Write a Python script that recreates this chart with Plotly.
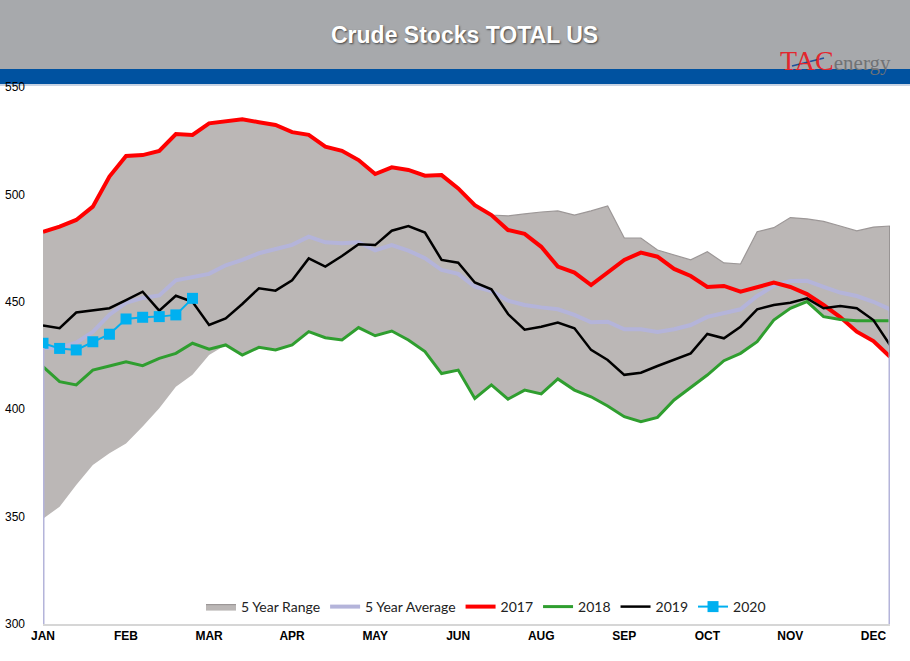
import plotly.graph_objects as go

weeks = list(range(52))
month_ticks = [0, 5, 10, 15, 20, 25, 30, 35, 40, 45, 50]
month_labels = ["JAN", "FEB", "MAR", "APR", "MAY", "JUN", "AUG", "SEP", "OCT", "NOV", "DEC"]

y2017 = [482.6, 485.0, 488.1, 494.3, 508.3, 517.9, 518.3, 520.2, 528.1, 527.7,
         533.1, 533.9, 535.0, 533.6, 532.3, 529.0, 527.7, 522.2, 520.3, 516.0,
         509.5, 512.6, 511.4, 508.7, 509.0, 502.8, 495.0, 490.4, 483.4, 481.6,
         475.6, 466.4, 463.6, 457.8, 463.4, 469.5, 472.9, 471.0, 465.3, 462.0,
         456.9, 457.4, 454.7, 457.0, 458.9, 456.9, 453.6, 448.5, 442.9, 436.1,
         431.7, 424.4]

y2018 = [419.8, 412.8, 411.3, 418.2, 420.1, 422.1, 420.3, 423.7, 426.0, 430.7,
         427.9, 429.9, 425.2, 428.8, 427.6, 429.9, 436.1, 433.3, 432.2, 438.0,
         434.2, 436.4, 432.2, 426.8, 416.6, 418.2, 405.0, 411.3, 404.7, 408.9,
         407.1, 414.1, 408.9, 405.8, 401.5, 396.5, 394.2, 396.2, 404.3, 410.0,
         415.9, 422.6, 426.0, 431.4, 441.5, 447.0, 450.1, 443.1, 441.8, 441.2,
         441.2, 441.2]

y2019 = [439.0, 437.7, 445.0, 445.9, 447.0, 450.8, 454.7, 445.9, 452.8, 450.0,
         439.2, 442.3, 449.0, 456.3, 455.2, 460.0, 470.2, 466.4, 471.3, 476.8,
         476.4, 483.1, 485.3, 482.2, 469.5, 468.2, 459.0, 455.8, 444.3, 437.0,
         438.4, 440.3, 437.7, 427.6, 422.9, 416.0, 417.0, 420.1, 422.9, 426.0,
         435.0, 433.0, 438.4, 446.5, 448.5, 449.6, 451.6, 447.0, 448.0, 447.0,
         441.5, 429.9]

y2020 = [430.7, 428.3, 427.6, 431.4, 434.9, 442.0, 442.8, 443.1, 443.9, 451.6]

avg5 = [428.5, 428.5, 431.0, 436.0, 444.0, 449.5, 451.8, 453.0, 460.0, 461.7,
        463.0, 467.0, 469.5, 472.6, 474.5, 476.5, 480.3, 477.7, 477.2, 477.7,
        474.0, 476.4, 473.8, 470.3, 464.8, 463.0, 457.0, 455.0, 450.5, 448.5,
        447.4, 446.5, 443.9, 440.5, 440.7, 437.2, 437.2, 436.0, 437.2, 439.2,
        443.0, 444.6, 446.5, 452.7, 457.4, 459.7, 459.8, 457.0, 454.3, 452.7,
        450.0, 446.5]

range_low = [349.0, 354.6, 364.7, 374.0, 379.5, 384.0, 392.0, 400.4, 410.5, 416.0,
             425.2, 429.9, 425.2, 428.8, 427.6, 429.9, 436.1, 433.3, 432.2, 438.0,
             434.2, 436.4, 432.2, 426.8, 416.6, 418.2, 405.0, 411.3, 404.7, 408.9,
             407.1, 414.1, 408.9, 405.8, 401.5, 396.5, 394.2, 396.2, 404.3, 410.0,
             415.9, 422.6, 426.0, 431.4, 441.5, 447.0, 450.1, 443.1, 441.8, 436.1,
             431.7, 424.4]

range_high = [482.6, 485.0, 488.1, 494.3, 508.3, 517.9, 518.3, 520.2, 528.1, 527.7,
              533.1, 533.9, 535.0, 533.6, 532.3, 529.0, 527.7, 522.2, 520.3, 516.0,
              509.5, 512.6, 511.4, 508.7, 509.0, 502.8, 495.0, 490.4, 490.0, 490.9,
              491.8, 492.3, 490.4, 492.3, 494.6, 479.7, 479.7, 474.1, 471.8, 469.5,
              473.3, 468.1, 467.6, 482.6, 484.5, 489.2, 488.6, 487.4, 485.3, 483.0,
              484.8, 485.3]

Y_MIN, Y_MAX = 300, 550

fig = go.Figure()

fig.add_trace(go.Scatter(x=weeks, y=range_low, mode="lines", line=dict(width=0, color="rgba(0,0,0,0)"),
                         showlegend=False, hoverinfo="skip"))
fig.add_trace(go.Scatter(x=weeks, y=range_high, mode="lines", fill="tonexty",
                         fillcolor="#bbb7b6", line=dict(width=1.2, color="#9c9797"),
                         name="5 Year Range"))
fig.add_trace(go.Scatter(x=weeks, y=avg5, mode="lines", line=dict(width=4, color="#b4b4da"),
                         name="5 Year Average"))
fig.add_trace(go.Scatter(x=weeks, y=y2017, mode="lines", line=dict(width=4, color="#ff0000"),
                         name="2017"))
fig.add_trace(go.Scatter(x=weeks, y=y2018, mode="lines", line=dict(width=3, color="#2f9e2f"),
                         name="2018"))
fig.add_trace(go.Scatter(x=weeks, y=y2019, mode="lines", line=dict(width=2.5, color="#000000"),
                         name="2019"))
fig.add_trace(go.Scatter(x=weeks[:len(y2020)], y=y2020, mode="lines+markers",
                         line=dict(width=2, color="#00b0f0"),
                         marker=dict(symbol="square", size=11, color="#00b0f0"),
                         name="2020"))

# paper y for a pixel row: (624 - py) / 537 ; paper x: (px - 43) / 847
def py(p):
    return (624 - p) / 537.0

def px(p):
    return (p - 43) / 847.0

shapes = [
    dict(type="rect", xref="paper", yref="paper", x0=px(-5), x1=px(915), y0=py(69), y1=py(-5),
         fillcolor="#a7a9ac", line=dict(width=0), layer="below"),
    dict(type="rect", xref="paper", yref="paper", x0=px(-5), x1=px(915), y0=py(84), y1=py(69),
         fillcolor="#0052a0", line=dict(width=0), layer="below"),
    dict(type="rect", xref="paper", yref="paper", x0=px(-5), x1=px(915), y0=py(86), y1=py(84),
         fillcolor="#c8d3e3", line=dict(width=0), layer="below"),
    dict(type="line", xref="x", yref="y", x0=weeks[0], x1=weeks[0], y0=Y_MIN, y1=avg5[0],
         line=dict(color="#b4b4da", width=3)),
    dict(type="line", xref="x", yref="y", x0=weeks[-1], x1=weeks[-1], y0=Y_MIN, y1=avg5[-1],
         line=dict(color="#b4b4da", width=3)),
    dict(type="line", xref="x", yref="y", x0=weeks[-1], x1=weeks[-1], y0=range_low[-1], y1=range_high[-1],
         line=dict(color="#8d8888", width=1.5)),
    dict(type="line", xref="paper", yref="paper", x0=px(792), x1=px(824), y0=py(66), y1=py(58),
         line=dict(color="#1d4f9c", width=1.5)),
]

annotations = [
    dict(text="<b>Crude Stocks TOTAL US</b>", xref="paper", yref="paper", x=px(464), y=py(35),
         xanchor="center", yanchor="middle", showarrow=False,
         font=dict(family="Liberation Sans, Arial", size=23, color="white",
                   shadow="1px 1px 2px #444")),
    dict(text='<span style="color:#e3262d;font-size:28px">TAC</span><span style="color:#707275;font-size:21px">energy</span>',
         xref="paper", yref="paper", x=px(893), y=py(61), xanchor="right", yanchor="middle",
         showarrow=False, font=dict(family="Liberation Serif, Times New Roman", size=21)),
]

fig.update_layout(
    width=910, height=661,
    margin=dict(l=43, r=20, t=87, b=37, autoexpand=False),
    paper_bgcolor="white", plot_bgcolor="white",
    shapes=shapes, annotations=annotations,
    showlegend=True,
    legend=dict(orientation="h", x=px(486), xanchor="center", y=py(607), yanchor="middle",
                traceorder="normal",
                bgcolor="rgba(0,0,0,0)", font=dict(family="Lato, Noto Sans", size=14, color="#222"),
                itemwidth=30, tracegroupgap=0),
    xaxis=dict(range=[weeks[0], weeks[-1]], tickmode="array", tickvals=month_ticks,
               ticktext=["<b>%s</b>" % m for m in month_labels],
               tickfont=dict(family="Liberation Sans, Arial", size=12, color="#000"),
               showgrid=False, zeroline=False, showline=True, linecolor="#d6d6d6", linewidth=2,
               ticks="", automargin=False),
    yaxis=dict(range=[Y_MIN, Y_MAX], tickmode="array", tickvals=[300, 350, 400, 450, 500, 550],
               tickfont=dict(family="Liberation Sans, Arial", size=12, color="#000"),
               showgrid=False, zeroline=False, showline=False, ticks="",
               ticklabelstandoff=17, automargin=False),
)

fig.write_html("out.html", config={"displayModeBar": False},
               post_script="document.body.style.margin='0';document.body.style.overflow='hidden';")
